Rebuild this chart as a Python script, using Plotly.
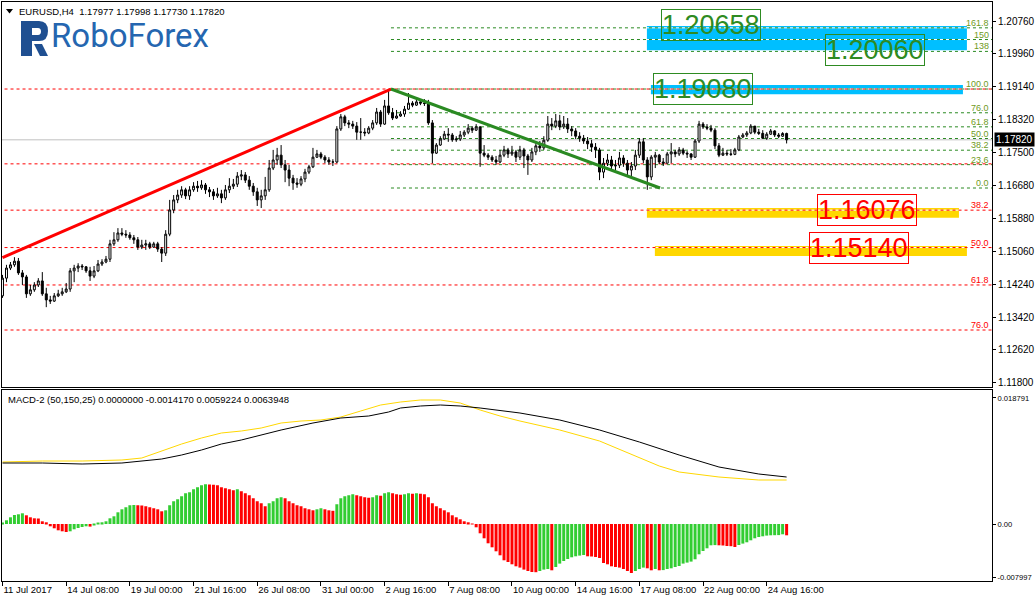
import plotly.graph_objects as go

# ---------------- data ----------------
tick_index = [0, 16, 32, 48, 64, 80, 96, 112, 128, 144, 160, 176, 192]
tick_labels = ["11 Jul 2017", "14 Jul 08:00", "19 Jul 00:00", "21 Jul 16:00", "26 Jul 08:00",
               "31 Jul 00:00", "2 Aug 16:00", "7 Aug 08:00", "10 Aug 00:00", "14 Aug 16:00",
               "17 Aug 08:00", "22 Aug 00:00", "24 Aug 16:00"]

first_open = 1.1395
closes = [
    1.1439, 1.1464, 1.1472, 1.1481, 1.1452, 1.1442, 1.1400, 1.1410, 1.1422, 1.1432,
    1.1400, 1.1385, 1.1382, 1.1395, 1.1400, 1.1405, 1.1412, 1.1457, 1.1464, 1.1469,
    1.1467, 1.1457, 1.1444, 1.1457, 1.1474, 1.1479, 1.1486, 1.1524, 1.1534, 1.1551,
    1.1548, 1.1546, 1.1539, 1.1534, 1.1516, 1.1521, 1.1524, 1.1516, 1.1524, 1.1511,
    1.1501, 1.1548, 1.1608, 1.1633, 1.1645, 1.1658, 1.1643, 1.1658, 1.1667, 1.1663,
    1.1670, 1.1658, 1.1653, 1.1643, 1.1648, 1.1638, 1.1658, 1.1667, 1.1672, 1.1692,
    1.1695, 1.1682, 1.1667, 1.1653, 1.1633, 1.1643, 1.1658, 1.1712, 1.1732, 1.1744,
    1.1720, 1.1707, 1.1687, 1.1675, 1.1672, 1.1685, 1.1702, 1.1715, 1.1739, 1.1747,
    1.1739, 1.1732, 1.1727, 1.1727, 1.1809, 1.1839, 1.1824, 1.1821, 1.1816, 1.1801,
    1.1801, 1.1799, 1.1811, 1.1824, 1.1851, 1.1821, 1.1866, 1.1849, 1.1836, 1.1841,
    1.1846, 1.1858, 1.1873, 1.1868, 1.1876, 1.1873, 1.1872, 1.1824, 1.1749, 1.1769,
    1.1784, 1.1796, 1.1794, 1.1782, 1.1784, 1.1794, 1.1801, 1.1811, 1.1806, 1.1814,
    1.1749, 1.1744, 1.1739, 1.1732, 1.1727, 1.1744, 1.1757, 1.1747, 1.1752, 1.1739,
    1.1757, 1.1742, 1.1732, 1.1752, 1.1767, 1.1762, 1.1781, 1.1821, 1.1816, 1.1829,
    1.1814, 1.1821, 1.1809, 1.1804, 1.1791, 1.1786, 1.1779, 1.1772, 1.1764, 1.1757,
    1.1702, 1.1724, 1.1732, 1.1717, 1.1719, 1.1737, 1.1724, 1.1707, 1.1717, 1.1744,
    1.1777, 1.1732, 1.1690, 1.1739, 1.1744, 1.1727, 1.1724, 1.1747, 1.1752, 1.1747,
    1.1757, 1.1749, 1.1747, 1.1739, 1.1779, 1.1821, 1.1814, 1.1811, 1.1806, 1.1767,
    1.1744, 1.1749, 1.1747, 1.1746, 1.1757, 1.1789, 1.1794, 1.1799, 1.1816, 1.1801,
    1.1798, 1.1786, 1.1796, 1.1804, 1.1794, 1.1791, 1.17977, 1.17820]
highs = [
    1.1447, 1.1472, 1.1479, 1.1491, 1.1489, 1.1459, 1.1447, 1.1422, 1.1429, 1.1439,
    1.1454, 1.1415, 1.1395, 1.1402, 1.1410, 1.1415, 1.1427, 1.1464, 1.1472, 1.1476,
    1.1474, 1.1469, 1.1467, 1.1469, 1.1484, 1.1486, 1.1494, 1.1534, 1.1553, 1.1563,
    1.1563, 1.1558, 1.1553, 1.1546, 1.1541, 1.1534, 1.1534, 1.1529, 1.1529, 1.1529,
    1.1516, 1.1558, 1.1633, 1.1645, 1.1658, 1.1667, 1.1663, 1.1667, 1.1677, 1.1680,
    1.1682, 1.1675, 1.1665, 1.1660, 1.1663, 1.1658, 1.1670, 1.1687, 1.1685, 1.1702,
    1.1707, 1.1702, 1.1692, 1.1675, 1.1663, 1.1658, 1.1690, 1.1732, 1.1757, 1.1762,
    1.1769, 1.1732, 1.1720, 1.1695, 1.1687, 1.1692, 1.1710, 1.1720, 1.1762, 1.1757,
    1.1752, 1.1744, 1.1739, 1.1734, 1.1816, 1.1846, 1.1844, 1.1831, 1.1829, 1.1826,
    1.1836, 1.1811, 1.1816, 1.1831, 1.1861, 1.1856, 1.1881, 1.1908, 1.1861, 1.1856,
    1.1853, 1.1866, 1.1898, 1.1878, 1.1886, 1.1883, 1.1883, 1.1881, 1.1831, 1.1774,
    1.1791, 1.1804, 1.1811, 1.1799, 1.1791, 1.1804, 1.1806, 1.1821, 1.1816, 1.1821,
    1.1816, 1.1769, 1.1749, 1.1744, 1.1742, 1.1757, 1.1767, 1.1762, 1.1767, 1.1757,
    1.1767, 1.1762, 1.1747, 1.1762, 1.1777, 1.1779, 1.1791, 1.1841, 1.1836, 1.1846,
    1.1844, 1.1841, 1.1836, 1.1816, 1.1811, 1.1801, 1.1794, 1.1789, 1.1782, 1.1774,
    1.1762, 1.1737, 1.1747, 1.1742, 1.1732, 1.1752, 1.1744, 1.1732, 1.1727, 1.1757,
    1.1786, 1.1786, 1.1739, 1.1744, 1.1752, 1.1747, 1.1737, 1.1752, 1.1774, 1.1757,
    1.1764, 1.1762, 1.1754, 1.1749, 1.1784, 1.1829, 1.1826, 1.1821, 1.1819, 1.1811,
    1.1774, 1.1762, 1.1757, 1.1759, 1.1762, 1.1794, 1.1799, 1.1804, 1.1821, 1.1816,
    1.1809, 1.1806, 1.1801, 1.1809, 1.1806, 1.1799, 1.1801, 1.17998]
lows = [
    1.1390, 1.1429, 1.1459, 1.1467, 1.1447, 1.1422, 1.1390, 1.1395, 1.1405, 1.1417,
    1.1395, 1.1367, 1.1375, 1.1380, 1.1392, 1.1395, 1.1402, 1.1405, 1.1429, 1.1454,
    1.1459, 1.1452, 1.1432, 1.1439, 1.1454, 1.1469, 1.1476, 1.1479, 1.1519, 1.1529,
    1.1543, 1.1539, 1.1534, 1.1524, 1.1509, 1.1511, 1.1509, 1.1511, 1.1514, 1.1504,
    1.1479, 1.1494, 1.1543, 1.1600, 1.1625, 1.1638, 1.1635, 1.1633, 1.1653, 1.1653,
    1.1658, 1.1648, 1.1640, 1.1633, 1.1638, 1.1625, 1.1633, 1.1650, 1.1660, 1.1665,
    1.1682, 1.1675, 1.1658, 1.1643, 1.1618, 1.1613, 1.1633, 1.1653, 1.1707, 1.1720,
    1.1712, 1.1677, 1.1667, 1.1658, 1.1663, 1.1667, 1.1677, 1.1697, 1.1712, 1.1737,
    1.1734, 1.1724, 1.1720, 1.1717, 1.1724, 1.1804, 1.1816, 1.1811, 1.1809, 1.1782,
    1.1782, 1.1791, 1.1796, 1.1806, 1.1819, 1.1814, 1.1819, 1.1844, 1.1831, 1.1834,
    1.1839, 1.1839, 1.1856, 1.1863, 1.1866, 1.1868, 1.1866, 1.1819, 1.1724, 1.1747,
    1.1767, 1.1782, 1.1777, 1.1777, 1.1777, 1.1779, 1.1789, 1.1796, 1.1799, 1.1804,
    1.1715, 1.1739, 1.1732, 1.1727, 1.1720, 1.1724, 1.1739, 1.1737, 1.1742, 1.1727,
    1.1732, 1.1712, 1.1695, 1.1727, 1.1744, 1.1752, 1.1757, 1.1777, 1.1806, 1.1811,
    1.1806, 1.1809, 1.1799, 1.1791, 1.1784, 1.1777, 1.1772, 1.1759, 1.1752, 1.1737,
    1.1682, 1.1687, 1.1717, 1.1707, 1.1707, 1.1712, 1.1715, 1.1692, 1.1687, 1.1707,
    1.1737, 1.1724, 1.1658, 1.1682, 1.1712, 1.1722, 1.1717, 1.1724, 1.1724, 1.1739,
    1.1742, 1.1744, 1.1737, 1.1732, 1.1737, 1.1774, 1.1809, 1.1806, 1.1801, 1.1759,
    1.1739, 1.1742, 1.1742, 1.1742, 1.1744, 1.1754, 1.1786, 1.1789, 1.1796, 1.1796,
    1.1794, 1.1784, 1.1782, 1.1794, 1.1789, 1.1786, 1.1789, 1.17730]
opens = [first_open] + closes[:-1]
bar_index = list(range(len(closes)))

price_ticks = [1.20760, 1.19960, 1.19140, 1.18320, 1.17500, 1.16680,
               1.15880, 1.15060, 1.14240, 1.13420, 1.12620, 1.11800]
last_price = 1.17820

# MACD values, in units of 1e-4
macd_hist_e4 = [
    1.49, 5.52, 9.99, 13.42, 14.46, 15.95, 12.97, 9.99, 8.50, 8.20,
    4.03, 2.53, -3.43, -6.41, -9.39, -10.88, -11.93, -10.88, -7.90, -5.96,
    -4.47, -3.43, -3.88, -1.49, 1.04, 2.53, 4.03, 8.50, 11.48, 17.44,
    21.92, 24.90, 27.88, 28.18, 27.88, 27.58, 26.39, 24.90, 23.41, 21.92,
    18.94, 20.43, 27.88, 33.85, 36.83, 41.30, 45.77, 47.26, 51.74, 54.72,
    57.70, 59.19, 58.89, 58.60, 57.70, 54.72, 53.23, 51.74, 50.25, 51.74,
    48.76, 45.77, 42.79, 38.32, 33.85, 30.86, 26.39, 30.86, 33.85, 38.32,
    39.81, 38.32, 33.85, 30.86, 27.88, 26.39, 23.41, 21.92, 20.43, 21.92,
    23.41, 21.92, 20.43, 19.68, 29.37, 38.32, 41.30, 42.79, 44.28, 42.79,
    41.30, 39.81, 39.06, 39.81, 42.79, 42.05, 45.77, 47.26, 45.77, 44.28,
    43.54, 44.28, 45.77, 45.03, 45.77, 45.03, 44.28, 39.81, 30.86, 26.39,
    23.41, 20.43, 17.44, 12.97, 9.99, 7.01, 4.03, 2.53, -0.45, -4.92,
    -13.87, -21.32, -28.78, -34.74, -40.70, -46.67, -54.12, -56.66, -60.09, -63.07,
    -65.01, -67.99, -70.08, -71.57, -71.87, -70.08, -67.99, -67.10, -69.03, -64.11,
    -59.04, -55.17, -52.19, -49.65, -48.16, -47.12, -46.22, -48.16, -48.46, -49.20,
    -50.69, -58.15, -60.09, -63.07, -64.11, -65.01, -67.10, -70.08, -73.06, -70.08,
    -67.10, -65.01, -66.05, -69.03, -67.10, -69.03, -68.74, -67.10, -66.05, -64.11,
    -62.62, -59.04, -57.55, -56.06, -52.63, -45.18, -40.26, -36.23, -31.76, -31.46,
    -31.76, -32.06, -32.80, -33.10, -34.29, -31.31, -29.22, -27.29, -24.30, -21.32,
    -19.38, -18.34, -17.30, -16.85, -16.70, -16.55, -15.36, -16.85]
macd_black_idx = [0, 10, 20, 30, 40, 45, 50, 55, 60, 65, 70, 78, 85, 92, 97, 100, 105,
                  110, 115, 120, 130, 140, 150, 160, 170, 180, 190, 197]
macd_black_e4 = [90.95, 90.95, 89.46, 90.95, 96.92, 102.88, 110.33, 119.28, 125.24, 132.70,
                 140.15, 150.59, 158.05, 161.03, 166.99, 172.96, 175.94, 177.43, 175.94,
                 172.96, 165.50, 155.06, 140.15, 122.26, 102.88, 84.99, 74.55, 70.08]
macd_yellow_idx = [0, 10, 20, 30, 35, 40, 45, 50, 55, 60, 65, 70, 75, 80, 85, 90, 95, 100,
                   105, 110, 115, 120, 125, 130, 140, 150, 160, 165, 170, 180, 190, 197]
macd_yellow_e4 = [92.44, 93.93, 93.93, 95.42, 98.41, 108.84, 119.28, 128.23, 135.68, 138.66,
                  143.14, 150.59, 153.57, 155.06, 159.54, 168.48, 177.43, 181.90, 184.88,
                  184.88, 180.41, 169.97, 161.03, 153.57, 140.15, 123.75, 98.41, 86.48,
                  77.53, 70.08, 65.60, 65.60]
macd_ticks = [0.018791, 0.0, -0.007997]
macd_tick_text = ["0.018791", "0.00", "-0.007997"]

# Trend lines (bar index, price)
red_trend_idx = [0, 97.6]
red_trend_price = [1.1490, 1.1908]
green_trend_idx = [97.6, 165.2]
green_trend_price = [1.1908, 1.16625]

# Fibonacci objects
green_fib_low, green_fib_high = 1.16625, 1.1908
green_fib_levels = [0, 23.6, 38.2, 50, 61.8, 76, 100, 138, 150, 161.8]
green_fib_labels = ["0.0", "23.6", "38.2", "50.0", "61.8", "76.0", "100.0", "138", "150", "161.8"]
red_fib_high, red_fib_low = 1.1908, 1.11216
red_fib_levels = [0, 23.6, 38.2, 50, 61.8, 76]
red_fib_labels = ["", "", "38.2", "50.0", "61.8", "76.0"]

# Target zones (price ranges) and labels
blue_zones = [(1.20040, 1.20642), (1.18948, 1.19179)]
yellow_zones = [(1.15888, 1.16129), (1.14939, 1.15186)]
green_targets = ["1.20658", "1.20060", "1.19080"]
red_targets = ["1.16076", "1.15140"]

# ---------------- layout geometry ----------------
W, H = 1035, 602
L_M, R_M, T_M, B_M = 2, 43, 2, 21
PW, PH = W - L_M - R_M, H - T_M - B_M
X_RANGE = [-0.126, 248.6]
Y_RANGE = [1.11690, 1.21238]
Y2_RANGE = [-0.008499, 0.020054]
FONT = "Liberation Sans"


def px(x):
    return (x - L_M) / PW


def py(y):
    return (H - B_M - y) / PH


def pt(x, y):
    return f"{px(x):.5f},{py(y):.5f}"


GREEN_LINE = "#2a8a22"
GREEN_TXT = "#6f9a1c"
RED = "#ff0000"

fig = go.Figure()

# MACD histogram
hist = [v * 1e-4 for v in macd_hist_e4]
hist_colors = []
for i, v in enumerate(hist):
    if i == 0 or v > hist[i - 1]:
        hist_colors.append("#32cd32")
    else:
        hist_colors.append("#ff0000")
fig.add_trace(go.Bar(x=bar_index, y=hist, marker=dict(color=hist_colors, line=dict(width=0)),
                     width=0.75, xaxis="x2", yaxis="y2", hoverinfo="skip"))
fig.add_trace(go.Scatter(x=macd_yellow_idx, y=[v * 1e-4 for v in macd_yellow_e4], mode="lines",
                         line=dict(color="#ffd700", width=1), xaxis="x2", yaxis="y2"))
fig.add_trace(go.Scatter(x=macd_black_idx, y=[v * 1e-4 for v in macd_black_e4], mode="lines",
                         line=dict(color="#000000", width=1), xaxis="x2", yaxis="y2"))

# Candles
fig.add_trace(go.Candlestick(
    x=bar_index, open=opens, high=highs, low=lows, close=closes,
    increasing=dict(line=dict(color="black", width=1), fillcolor="white"),
    decreasing=dict(line=dict(color="black", width=1), fillcolor="black"),
    whiskerwidth=0, xaxis="x", yaxis="y"))

# Trend lines
fig.add_trace(go.Scatter(x=red_trend_idx, y=red_trend_price, mode="lines",
                         line=dict(color=RED, width=3), xaxis="x", yaxis="y"))
fig.add_trace(go.Scatter(x=green_trend_idx, y=green_trend_price, mode="lines",
                         line=dict(color=GREEN_LINE, width=3), xaxis="x", yaxis="y"))

shapes = []
annotations = []

# zones
blue_x = [(161.9, 242.3), (162.9, 241.3)]
yellow_x = [(161.9, 240.3), (163.9, 242.3)]
for (lo, hi), (x0, x1) in zip(blue_zones, blue_x):
    shapes.append(dict(type="rect", xref="x", yref="y", x0=x0, x1=x1, y0=lo, y1=hi,
                       fillcolor="#00bfff", line=dict(width=0), layer="below"))
for (lo, hi), (x0, x1) in zip(yellow_zones, yellow_x):
    shapes.append(dict(type="rect", xref="x", yref="y", x0=x0, x1=x1, y0=lo, y1=hi,
                       fillcolor="#ffd700", line=dict(width=0), layer="below"))

X_END = 250
green_prices = [green_fib_low + lv / 100.0 * (green_fib_high - green_fib_low) for lv in green_fib_levels]
red_prices = [red_fib_high - lv / 100.0 * (red_fib_high - red_fib_low) for lv in red_fib_levels]
GREEN_X0 = 97.6
RED_X0 = -1

# white underlays (MT4 dashed lines have background-coloured gaps)
for p in green_prices:
    shapes.append(dict(type="line", xref="x", yref="y", x0=GREEN_X0, x1=X_END, y0=p, y1=p,
                       line=dict(color="white", width=1), layer="below"))
for p in red_prices:
    shapes.append(dict(type="line", xref="x", yref="y", x0=RED_X0, x1=X_END, y0=p, y1=p,
                       line=dict(color="white", width=1), layer="below"))
for p in green_prices:
    shapes.append(dict(type="line", xref="x", yref="y", x0=GREEN_X0, x1=X_END, y0=p, y1=p,
                       line=dict(color=GREEN_LINE, width=1, dash="3px,3px"), layer="below"))
for p in red_prices:
    shapes.append(dict(type="line", xref="x", yref="y", x0=RED_X0, x1=X_END, y0=p, y1=p,
                       line=dict(color=RED, width=1, dash="3px,3px"), layer="below"))
# current price line
shapes.append(dict(type="line", xref="x", yref="y", x0=RED_X0, x1=X_END, y0=last_price, y1=last_price,
                   line=dict(color="#c0c0c0", width=1), layer="below"))

# fib labels
LABEL_X = 248.3
for p, t in zip(green_prices, green_fib_labels):
    annotations.append(dict(x=LABEL_X, y=p, xref="x", yref="y", text=t, showarrow=False,
                            xanchor="right", yanchor="bottom", yshift=-2,
                            font=dict(family=FONT, size=9, color=GREEN_TXT)))
for p, t in zip(red_prices, red_fib_labels):
    if t:
        annotations.append(dict(x=LABEL_X, y=p, xref="x", yref="y", text=t, showarrow=False,
                                xanchor="right", yanchor="bottom", yshift=-2,
                                font=dict(family=FONT, size=9, color=RED)))

# target boxes
green_box_x = [178.1, 219.3, 176.1]
red_box_x = [217.3, 215.3]
for t, bx in zip(green_targets, green_box_x):
    annotations.append(dict(x=bx, y=float(t), xref="x", yref="y", text=t, showarrow=False,
                            font=dict(family=FONT, size=27, color="#2e8b22"),
                            bordercolor="#2e8b22", borderwidth=1, borderpad=0))
for t, bx in zip(red_targets, red_box_x):
    annotations.append(dict(x=bx, y=float(t), xref="x", yref="y", text=t, showarrow=False,
                            font=dict(family=FONT, size=27, color=RED),
                            bordercolor=RED, borderwidth=1, borderpad=0))

# current price tag
annotations.append(dict(x=px(994), y=last_price, xref="paper", yref="y", text="1.17820",
                        showarrow=False, xanchor="left", yanchor="middle",
                        font=dict(family=FONT, size=10, color="white"), bgcolor="black",
                        borderpad=1))

# header texts
annotations.append(dict(x=px(17), y=py(11), xref="paper", yref="paper",
                        text="EURUSD,H4  1.17977 1.17998 1.17730 1.17820", showarrow=False,
                        xanchor="left", yanchor="middle",
                        font=dict(family=FONT, size=9.5, color="black")))
shapes.append(dict(type="path", xref="paper", yref="paper",
                   path=f"M{pt(6,9)} L{pt(13,9)} L{pt(9.5,13.5)} Z",
                   fillcolor="black", line=dict(width=0)))
annotations.append(dict(x=px(6), y=py(399), xref="paper", yref="paper",
                        text="MACD-2 (50,150,25) 0.0000000 -0.0014170 0.0059224 0.0063948",
                        showarrow=False, xanchor="left", yanchor="middle",
                        font=dict(family=FONT, size=9.5, color="black")))

# RoboForex logo
icon_col = "#1f4f91"
shapes.append(dict(type="path", xref="paper", yref="paper",
                   path=(f"M{pt(21,21)} L{pt(39,21)} Q{pt(48,21)} {pt(48,31)} Q{pt(48,41)} {pt(39,41)} "
                         f"L{pt(32,41)} L{pt(32,56)} L{pt(21,56)} Z "
                         f"M{pt(32,28)} L{pt(32,35)} L{pt(38,35)} Q{pt(41,35)} {pt(41,31.5)} "
                         f"Q{pt(41,28)} {pt(38,28)} Z"),
                   fillcolor=icon_col, line=dict(width=0)))
shapes.append(dict(type="path", xref="paper", yref="paper",
                   path=f"M{pt(34,44)} L{pt(42,44)} L{pt(48,56)} L{pt(40,56)} Z",
                   fillcolor=icon_col, line=dict(width=0)))
annotations.append(dict(x=px(49), y=py(36), xref="paper", yref="paper", text="RoboForex",
                        showarrow=False, xanchor="left", yanchor="middle",
                        font=dict(family="Roboto", size=33, color="#2566b0")))

main_dom = [py(387), 1.0]
macd_dom = [0.0, py(389.5)]

axis_common = dict(showgrid=False, zeroline=False, showline=True, mirror=True,
                   linecolor="black", linewidth=1, automargin=False)

fig.update_layout(
    width=W, height=H,
    margin=dict(l=L_M, r=R_M, t=T_M, b=B_M, autoexpand=False),
    paper_bgcolor="white", plot_bgcolor="white",
    showlegend=False, barmode="overlay",
    font=dict(family=FONT, size=9.5, color="black"),
    xaxis=dict(domain=[0, 1], anchor="y", range=X_RANGE, showticklabels=False, ticks="",
               rangeslider=dict(visible=False), **axis_common),
    xaxis2=dict(domain=[0, 1], anchor="y2", range=X_RANGE, matches="x", tickvals=tick_index,
                ticktext=tick_labels, ticks="outside", ticklen=4, tickcolor="black", tickangle=0,
                ticklabelposition="outside right", tickfont=dict(family=FONT, size=9.5),
                **axis_common),
    yaxis=dict(domain=main_dom, anchor="x", range=Y_RANGE, side="right", tickvals=price_ticks,
               ticktext=[f"{v:.5f}" for v in price_ticks], ticks="outside", ticklen=3,
               tickcolor="black", tickfont=dict(family=FONT, size=10), **axis_common),
    yaxis2=dict(domain=macd_dom, anchor="x2", range=Y2_RANGE, side="right", tickvals=macd_ticks,
                ticktext=macd_tick_text, ticks="outside", ticklen=3, tickcolor="black",
                tickfont=dict(family=FONT, size=7.6), **axis_common),
    shapes=shapes, annotations=annotations,
)

fig.write_html("out.html", config={"displayModeBar": False},
               post_script="document.body.style.margin='0';")
